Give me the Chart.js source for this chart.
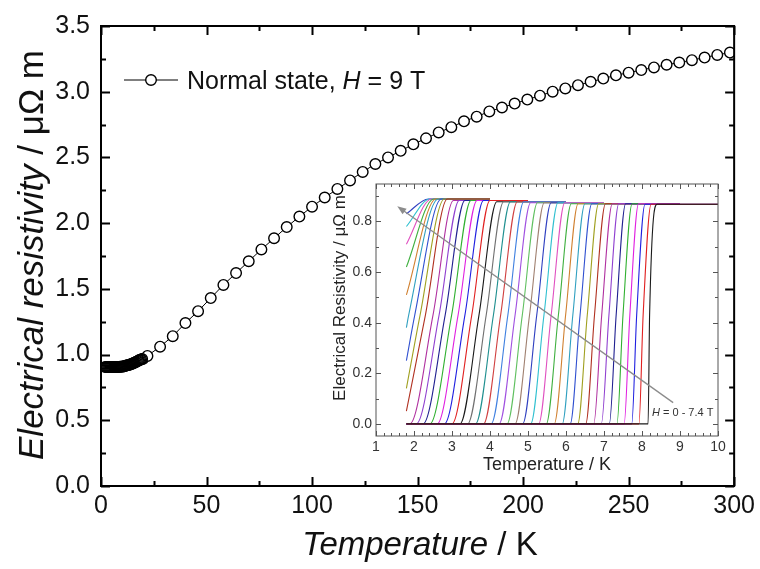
<!DOCTYPE html>
<html>
<head>
<meta charset="utf-8">
<script src="https://cdn.jsdelivr.net/npm/chart.js@4.4.0/dist/chart.umd.min.js"></script>
<style>
  html, body { margin: 0; padding: 0; background: #fff; }
  #wrap { position: relative; width: 760px; height: 569px; }
  #wrap canvas { position: absolute; left: 0; top: 0; }
</style>
</head>
<body>
<div id="wrap">
  <canvas id="main" width="760" height="569"></canvas>
  <canvas id="inset" width="760" height="569"></canvas>
</div>
<script>
const FONT = "'Liberation Sans', Arial, sans-serif";

// main plot: normal state at H = 9 T, dense part below 20 K
const lowT = [2, 2.5, 3, 3.5, 4, 4.5, 5, 5.5, 6, 6.5, 7, 7.5, 8, 8.5, 9, 9.5, 10, 10.5, 11, 11.5,
  12, 12.5, 13, 13.5, 14, 14.5, 15, 15.5, 16, 16.5, 17, 17.5, 18, 18.5, 19, 19.5];
const lowRho = [0.905, 0.905, 0.905, 0.905, 0.905, 0.905, 0.905, 0.905, 0.905, 0.905, 0.905, 0.905, 0.905, 0.906, 0.907, 0.908, 0.909, 0.91, 0.912, 0.914,
  0.916, 0.918, 0.92, 0.923, 0.926, 0.929, 0.932, 0.936, 0.94, 0.944, 0.948, 0.952, 0.956, 0.96, 0.963, 0.966];
// sparse part
const normalT = [20, 22, 28, 34, 40, 46, 52, 58, 64, 70, 76, 82, 88, 94, 100, 106, 112, 118, 124, 130, 136,
  142, 148, 154, 160, 166, 172, 178, 184, 190, 196, 202, 208, 214, 220, 226, 232, 238,
  244, 250, 256, 262, 268, 274, 280, 286, 292, 298];
const normalRho = [0.968, 0.99, 1.06, 1.14, 1.24, 1.33, 1.43, 1.53, 1.62, 1.71, 1.80, 1.885, 1.97, 2.05, 2.125, 2.195, 2.26, 2.325, 2.39, 2.45, 2.50,
  2.55, 2.60, 2.645, 2.69, 2.73, 2.775, 2.81, 2.85, 2.88, 2.91, 2.94, 2.97, 3.00, 3.025, 3.05, 3.075, 3.10,
  3.125, 3.145, 3.165, 3.185, 3.205, 3.222, 3.24, 3.26, 3.28, 3.298];

// inset: transitions for H = 0 ... 7.4 T (one entry per field, H = 0 first)
const insetTmin = 1.8;
const insetMidLevel = 0.43;
const insetStart = [0, 0, 0, 0, 0, 0, 0, 0, 0, 0, 0, 0, 0, 0, 0, 0, 0, 0, 0, 0,
  0, 0, 0, 0, 0, 0, 0, 0, 0, 0, 0, 0, 0.05, 0.14, 0.25, 0.38, 0.51, 0.62, 0.71, 0.78, 0.83];
const insetFoot = [8.16, 7.92, 7.73, 7.53, 7.34, 7.14, 6.93, 6.73, 6.52, 6.31, 6.11, 5.90, 5.69, 5.48, 5.28, 5.07, 4.86, 4.66, 4.45, 4.24,
  4.03, 3.83, 3.62, 3.41, 3.21, 3.00, 2.80, 2.61, 2.42, 2.24, 2.06, 1.89, null, null, null, null, null, null, null, null, null];
const insetMid = [8.20, 8.03, 7.86, 7.68, 7.50, 7.32, 7.13, 6.94, 6.75, 6.56, 6.37, 6.18, 5.99, 5.80, 5.61, 5.42, 5.23, 5.04, 4.85, 4.66,
  4.47, 4.28, 4.09, 3.90, 3.71, 3.52, 3.34, 3.16, 2.99, 2.82, 2.66, 2.50, 2.30, 2.16, 2.02, 1.86, null, null, null, null, null];
const insetKnee = [8.40, 8.24, 8.08, 7.91, 7.74, 7.57, 7.39, 7.22, 7.04, 6.86, 6.68, 6.50, 6.32, 6.14, 5.97, 5.79, 5.61, 5.43, 5.25, 5.07,
  4.89, 4.72, 4.54, 4.36, 4.18, 4.00, 3.83, 3.66, 3.50, 3.34, 3.19, 3.04, 2.88, 2.80, 2.72, 2.64, 2.58, 2.52, 2.46, 2.42, 2.38];
const insetTop = [0.868, 0.868, 0.868, 0.870, 0.870, 0.870, 0.870, 0.870, 0.870, 0.870, 0.870, 0.870, 0.870, 0.870, 0.874, 0.874, 0.874, 0.874, 0.874, 0.874,
  0.878, 0.878, 0.878, 0.878, 0.878, 0.883, 0.883, 0.883, 0.883, 0.883, 0.883, 0.883, 0.889, 0.889, 0.889, 0.889, 0.889, 0.889, 0.889, 0.889, 0.889];
const insetEnd = [10, 10, 10, 9, 9, 9, 9, 9, 9, 9, 9, 9, 9, 9, 7, 7, 7, 7, 7, 7,
  6, 6, 6, 6, 6, 5, 5, 5, 5, 5, 5, 5, 4, 4, 4, 4, 4, 4, 4, 4, 4];
const insetColors = ['#1a1a1a', '#e02020', '#2020e0', '#e020e0', '#30b030', '#202090', '#9040d0', '#b030a0',
  '#b03020', '#a0a020', '#3050d0', '#30a0c0', '#d08030', '#40b040', '#e050c0', '#30c0d0',
  '#3040c0', '#a08070', '#60c060', '#a050e0', '#4080e0', '#d04040', '#209090', '#707070'];
const insetArrow = [[8.82, 0.084], [1.56, 0.86]];

const insetDatasets = insetMid.map(function (m, k) {
  const pts = [];
  if (insetStart[k] === 0) {
    pts.push({x: insetTmin, y: 0});
    pts.push({x: insetFoot[k], y: 0});
  } else {
    pts.push({x: insetTmin, y: insetStart[k]});
  }
  if (m !== null) pts.push({x: m, y: insetMidLevel});
  pts.push({x: insetKnee[k], y: insetTop[k]});
  pts.push({x: insetEnd[k], y: insetTop[k]});
  return {
    data: pts, showLine: true, borderColor: insetColors[k % insetColors.length],
    borderWidth: 1.1, pointRadius: 0, cubicInterpolationMode: 'monotone', fill: false
  };
});

// writes text made of parts with different fonts, starting at x (or centered)
function drawParts(ctx, parts, x, y, center) {
  let total = 0;
  parts.forEach(function (p) { ctx.font = p[1]; total += ctx.measureText(p[0]).width; });
  let cx = center ? x - total / 2 : x;
  ctx.textAlign = 'left';
  parts.forEach(function (p) {
    ctx.font = p[1];
    ctx.fillText(p[0], cx, y);
    cx += ctx.measureText(p[0]).width;
  });
}

// inward ticks on all four sides plus the frame
function drawFrame(chart, xMin, xMax, xStep, xMajor, yMin, yMax, yStep, yMajor, bigLen, smallLen, color, width) {
  const ctx = chart.ctx, a = chart.chartArea;
  const xs = chart.scales.x, ys = chart.scales.y;
  ctx.save();
  ctx.strokeStyle = color;
  ctx.lineWidth = width;
  ctx.beginPath();
  for (let i = 0; xMin + i * xStep <= xMax + 1e-9; i++) {
    const v = xMin + i * xStep;
    const len = (Math.abs(v / xMajor - Math.round(v / xMajor)) < 1e-6) ? bigLen : smallLen;
    const px = Math.round(xs.getPixelForValue(v)) + 0.5;
    ctx.moveTo(px, a.bottom); ctx.lineTo(px, a.bottom - len);
    ctx.moveTo(px, a.top); ctx.lineTo(px, a.top + len);
  }
  for (let i = 0; yMin + i * yStep <= yMax + 1e-9; i++) {
    const v = yMin + i * yStep;
    const len = (Math.abs(v / yMajor - Math.round(v / yMajor)) < 1e-6) ? bigLen : smallLen;
    const py = Math.round(ys.getPixelForValue(v)) + 0.5;
    ctx.moveTo(a.left, py); ctx.lineTo(a.left + len, py);
    ctx.moveTo(a.right, py); ctx.lineTo(a.right - len, py);
  }
  ctx.stroke();
  ctx.strokeRect(a.left, a.top, a.right - a.left, a.bottom - a.top);
  ctx.restore();
}

const mainDecor = {
  id: 'mainDecor',
  afterDraw: function (chart) {
    const ctx = chart.ctx;
    drawFrame(chart, 0, 300, 25, 50, 0, 3.5, 0.25, 0.5, 9, 5, '#000', 2);
    ctx.save();
    ctx.fillStyle = '#111';
    ctx.textBaseline = 'alphabetic';
    // y title
    ctx.save();
    ctx.translate(43, 255);
    ctx.rotate(-Math.PI / 2);
    drawParts(ctx, [['Electrical resistivity', 'italic 35px ' + FONT], [' / \u03bc\u03a9 m', '35px ' + FONT]], 0, 0, true);
    ctx.restore();
    // x title
    drawParts(ctx, [['Temperature', 'italic 33px ' + FONT], [' / K', '33px ' + FONT]], 420, 555, true);
    // legend
    ctx.strokeStyle = '#000';
    ctx.lineWidth = 1;
    ctx.beginPath(); ctx.moveTo(124, 80); ctx.lineTo(178, 80); ctx.stroke();
    ctx.beginPath(); ctx.arc(151, 80, 5.3, 0, Math.PI * 2);
    ctx.fillStyle = '#fff'; ctx.fill();
    ctx.lineWidth = 1.4; ctx.stroke();
    ctx.fillStyle = '#111';
    drawParts(ctx, [['Normal state, ', '25px ' + FONT], ['H', 'italic 25px ' + FONT], [' = 9 T', '25px ' + FONT]], 187, 89, false);
    ctx.restore();
  }
};

const insetDecor = {
  id: 'insetDecor',
  afterDatasetsDraw: function (chart) {
    const ctx = chart.ctx, xs = chart.scales.x, ys = chart.scales.y;
    const x0 = xs.getPixelForValue(insetArrow[0][0]), y0 = ys.getPixelForValue(insetArrow[0][1]);
    const x1 = xs.getPixelForValue(insetArrow[1][0]), y1 = ys.getPixelForValue(insetArrow[1][1]);
    const ang = Math.atan2(y1 - y0, x1 - x0);
    ctx.save();
    ctx.strokeStyle = '#8c8c8c';
    ctx.fillStyle = '#8c8c8c';
    ctx.lineWidth = 1.3;
    ctx.beginPath(); ctx.moveTo(x0, y0); ctx.lineTo(x1 - 6 * Math.cos(ang), y1 - 6 * Math.sin(ang)); ctx.stroke();
    ctx.beginPath();
    ctx.moveTo(x1, y1);
    ctx.lineTo(x1 - 9 * Math.cos(ang) + 3.5 * Math.sin(ang), y1 - 9 * Math.sin(ang) - 3.5 * Math.cos(ang));
    ctx.lineTo(x1 - 9 * Math.cos(ang) - 3.5 * Math.sin(ang), y1 - 9 * Math.sin(ang) + 3.5 * Math.cos(ang));
    ctx.closePath(); ctx.fill();
    ctx.fillStyle = '#333';
    ctx.textBaseline = 'alphabetic';
    drawParts(ctx, [['H', 'italic 11px ' + FONT], [' = 0 - 7.4 T', '11px ' + FONT]], 652, 416, false);
    ctx.restore();
  },
  afterDraw: function (chart) {
    const ctx = chart.ctx;
    drawFrame(chart, 1, 10, 0.2, 1, 0, 0.9, 0.1, 0.2, 5, 3, '#555', 1);
    ctx.save();
    ctx.fillStyle = '#222';
    ctx.textBaseline = 'alphabetic';
    ctx.save();
    ctx.translate(345, 298);
    ctx.rotate(-Math.PI / 2);
    drawParts(ctx, [['Electrical Resistivity / \u03bc\u03a9 m', '17px ' + FONT]], 0, 0, true);
    ctx.restore();
    drawParts(ctx, [['Temperature / K', '18px ' + FONT]], 547, 470, true);
    ctx.restore();
  }
};

new Chart(document.getElementById('main'), {
  type: 'scatter',
  data: {
    datasets: [{
      // dense low temperature points: open circles pile up into a solid band
      data: lowT.map(function (t, i) { return {x: t, y: lowRho[i]}; }),
      showLine: false, pointRadius: 5.3, pointBorderWidth: 1.4,
      pointBackgroundColor: 'rgba(255,255,255,0)', pointBorderColor: '#000'
    }, {
      data: normalT.map(function (t, i) { return {x: t, y: normalRho[i]}; }),
      showLine: true, borderColor: '#000', borderWidth: 1,
      pointRadius: 5.3, pointBorderWidth: 1.4, pointBackgroundColor: '#fff', pointBorderColor: '#000'
    }]
  },
  options: {
    responsive: false, animation: false, devicePixelRatio: 1,
    layout: {padding: {left: 0, top: 18, right: 22, bottom: 0}},
    plugins: {legend: {display: false}, tooltip: {enabled: false}},
    scales: {
      x: {
        type: 'linear', min: 0, max: 300,
        border: {display: false}, grid: {display: false, drawTicks: false},
        ticks: {stepSize: 50, padding: 5, autoSkip: false, maxRotation: 0, color: '#111', font: {family: FONT, size: 25}},
        afterFit: function (s) { s.height = 83; }
      },
      y: {
        type: 'linear', min: 0, max: 3.5,
        border: {display: false}, grid: {display: false, drawTicks: false},
        ticks: {stepSize: 0.5, padding: 11, color: '#111', font: {family: FONT, size: 25},
          callback: function (v) { return v.toFixed(1); }},
        afterFit: function (s) { s.width = 101; }
      }
    }
  },
  plugins: [mainDecor]
});

new Chart(document.getElementById('inset'), {
  type: 'scatter',
  data: {datasets: insetDatasets},
  options: {
    responsive: false, animation: false, devicePixelRatio: 1,
    layout: {padding: {left: 330, top: 184, right: 42, bottom: 93}},
    plugins: {legend: {display: false}, tooltip: {enabled: false}},
    scales: {
      x: {
        type: 'linear', min: 1, max: 10,
        border: {display: false}, grid: {display: false, drawTicks: false},
        ticks: {stepSize: 1, padding: 3, autoSkip: false, maxRotation: 0, color: '#333', font: {family: FONT, size: 14}},
        afterFit: function (s) { s.height = 40; }
      },
      y: {
        type: 'linear', min: -0.048, max: 0.948,
        border: {display: false}, grid: {display: false, drawTicks: false},
        ticks: {stepSize: 0.2, includeBounds: false, padding: 4, color: '#333', font: {family: FONT, size: 14},
          callback: function (v) { return v.toFixed(1); }},
        afterFit: function (s) { s.width = 46; }
      }
    }
  },
  plugins: [insetDecor]
});
</script>
</body>
</html>
